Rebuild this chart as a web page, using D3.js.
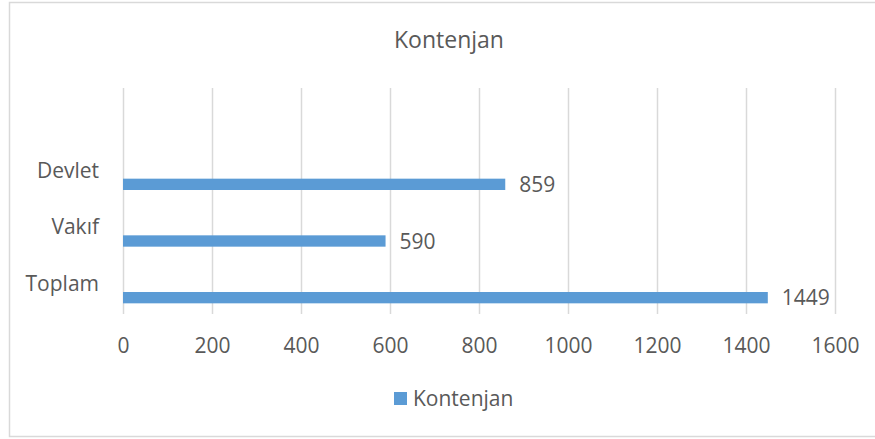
<!DOCTYPE html>
<html>
<head>
<meta charset="utf-8">
<script src="https://cdn.jsdelivr.net/npm/d3@7"></script>
<style>
  body { margin: 0; background: #fff; }
  text { font-family: "Open Sans", "Noto Sans", sans-serif; fill: #595959; }
</style>
</head>
<body>
<svg id="chart" width="875" height="439"></svg>
<script>
// data
var categories = ['Devlet', 'Vakıf', 'Toplam'];
var values = [859, 590, 1449];
var xTicks = [0, 200, 400, 600, 800, 1000, 1200, 1400, 1600];
var seriesName = 'Kontenjan';

var svg = d3.select('#chart');
var barColor = '#5B9BD5';
var gridColor = '#D9D9D9';

// chart border (right edge runs off the picture)
svg.append('rect')
    .attr('x', 9.5).attr('y', 2.5)
    .attr('width', 900).attr('height', 434)
    .attr('fill', '#fff')
    .attr('stroke', gridColor)
    .attr('stroke-width', 1.5);

var x = d3.scaleLinear().domain([0, 1600]).range([123, 835]);
var y = d3.scaleBand().domain(categories).range([156, 326])
    .paddingInner(0.8).paddingOuter(0.4);

var gridTop = 88, gridBottom = 314;

// vertical gridlines
svg.append('g').attr('class', 'grid')
  .selectAll('line')
  .data(xTicks)
  .enter().append('line')
    .attr('x1', function (d) { return x(d) + 0.5; })
    .attr('x2', function (d) { return x(d) + 0.5; })
    .attr('y1', gridTop)
    .attr('y2', gridBottom)
    .attr('stroke', gridColor)
    .attr('stroke-width', 1.5);

// x axis labels
var xAxis = d3.axisBottom(x).tickValues(xTicks)
    .tickFormat(d3.format('d'))
    .tickSize(0).tickPadding(0);
var ax = svg.append('g')
    .attr('transform', 'translate(0,' + 338 + ')')
    .call(xAxis);
ax.select('.domain').remove();
ax.selectAll('text')
    .attr('dy', '0.71em')
    .style('font-size', '21px')
    .style('font-family', '"Open Sans", sans-serif')
    .attr('fill', '#595959');

// bars
svg.append('g')
  .selectAll('rect')
  .data(values)
  .enter().append('rect')
    .attr('x', x(0))
    .attr('y', function (d, i) { return y(categories[i]); })
    .attr('width', function (d) { return x(d) - x(0); })
    .attr('height', y.bandwidth())
    .attr('fill', barColor);

// category labels sit just above their bar, right aligned
svg.append('g')
  .selectAll('text')
  .data(categories)
  .enter().append('text')
    .attr('x', 99)
    .attr('y', function (d) { return y(d) - 1; })
    .attr('text-anchor', 'end')
    .style('font-size', '21px')
    .text(function (d) { return d; });

// value labels
svg.append('g')
  .selectAll('text')
  .data(values)
  .enter().append('text')
    .attr('x', function (d) { return x(d) + 14; })
    .attr('y', function (d, i) { return y(categories[i]) + y.bandwidth() / 2; })
    .attr('dy', '0.36em')
    .style('font-size', '21px')
    .text(function (d) { return d; });

// title
svg.append('text')
    .attr('x', 449).attr('y', 48)
    .attr('text-anchor', 'middle')
    .style('font-size', '23px')
    .text(seriesName);

// legend
svg.append('rect')
    .attr('x', 394).attr('y', 392)
    .attr('width', 13).attr('height', 13)
    .attr('fill', barColor);
svg.append('text')
    .attr('x', 413).attr('y', 406)
    .style('font-size', '21px')
    .text(seriesName);
</script>
</body>
</html>
